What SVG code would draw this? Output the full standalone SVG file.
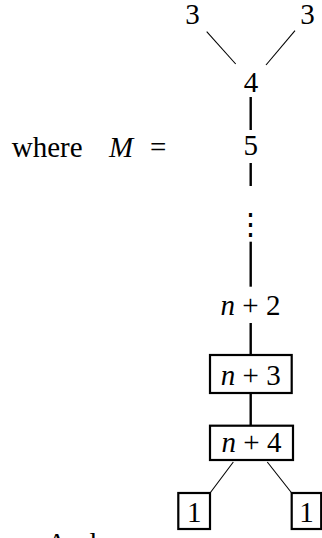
<svg xmlns="http://www.w3.org/2000/svg" width="322" height="538" viewBox="0 0 322 538">
<style>
text{font-family:"Liberation Serif","DejaVu Serif",serif;font-size:29px;fill:#000}
.c{text-anchor:middle}
.i{font-style:italic}
.thick{stroke:#000;stroke-width:2.4;fill:none}
.thin{stroke:#000;stroke-width:1.1;fill:none}
.box{stroke:#000;stroke-width:2.2;fill:#fff}
</style>
<rect width="322" height="538" fill="#fff"/>
<g id="connectors">
<line class="thin" x1="206.7" y1="31.7" x2="235.7" y2="64"/>
<line class="thin" x1="295" y1="30.7" x2="266" y2="65"/>
<line class="thick" x1="250.7" y1="97" x2="250.7" y2="130"/>
<line class="thick" x1="250.7" y1="163" x2="250.7" y2="186"/>
<line class="thick" x1="250.7" y1="241.7" x2="250.7" y2="286.7"/>
<line class="thick" x1="250.7" y1="323" x2="250.7" y2="355"/>
<line class="thick" x1="250.7" y1="393" x2="250.7" y2="425.7"/>
<line class="thin" x1="233.3" y1="462" x2="209.3" y2="494"/>
<line class="thin" x1="267.3" y1="462" x2="292.5" y2="494"/>
</g>
<g id="label"><text x="11.7" y="156.7">where</text><text x="109" y="156.7" class="i">M</text><text x="150" y="156.7">=</text></g>
<g id="n3a"><text class="c" x="192.5" y="23.5">3</text></g>
<g id="n3b"><text class="c" x="307.5" y="23.5">3</text></g>
<g id="n4"><text class="c" x="251" y="92">4</text></g>
<g id="n5"><text class="c" x="250.7" y="155">5</text></g>
<g id="dots"><text class="c" x="250.7" y="234" style="font-family:'DejaVu Serif',serif">⋮</text></g>
<g id="nplus2"><text class="c" x="250.5" y="315"><tspan class="i">n</tspan> + 2</text></g>
<g id="nplus3"><rect class="box" x="210" y="355" width="81.7" height="38"/><text class="c" x="250.8" y="385"><tspan class="i">n</tspan> + 3</text></g>
<g id="nplus4"><rect class="box" x="210" y="425.7" width="83" height="34.3"/><text class="c" x="251.5" y="452"><tspan class="i">n</tspan> + 4</text></g>
<g id="leaf1"><rect class="box" x="178.3" y="493" width="31.7" height="36"/><text class="c" x="194.2" y="521.7">1</text></g>
<g id="leaf2"><rect class="box" x="291.7" y="493" width="29.5" height="36"/><text class="c" x="306.5" y="521.7">1</text></g>
<g id="tail"><text x="46.5" y="553">And</text></g>
</svg>
